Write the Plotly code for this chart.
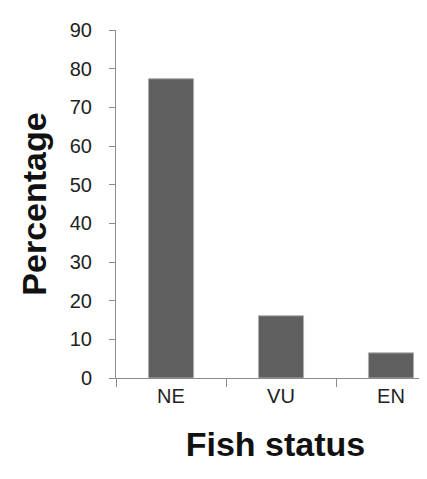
import plotly.graph_objects as go

categories = ["NE", "VU", "EN"]
percentages = [77.4, 16.1, 6.5]
y_ticks = [0, 10, 20, 30, 40, 50, 60, 70, 80, 90]

fig = go.Figure(
    go.Bar(
        x=categories,
        y=percentages,
        width=0.41,
        marker=dict(color="#5f5f5f", line=dict(color="#b0b0b0", width=1)),
    )
)

fig.update_layout(
    width=427,
    height=479,
    margin=dict(l=108, r=0, t=22, b=109),
    paper_bgcolor="white",
    plot_bgcolor="white",
    showlegend=False,
    font=dict(family="Liberation Sans, Arial, sans-serif", color="#222"),
)

fig.update_xaxes(
    range=[-0.5, 2.4],
    showline=True,
    linecolor="#8c8c8c",
    linewidth=1,
    ticks="outside",
    tickson="boundaries",
    ticklen=8,
    tickcolor="#8c8c8c",
    tickfont=dict(size=20, color="#222"),
    showgrid=False,
    zeroline=False,
    title=dict(text="<b>Fish status</b>", font=dict(size=34, color="#111"), standoff=26),
)

fig.update_yaxes(
    range=[0, 90],
    tickvals=y_ticks,
    showline=True,
    linecolor="#8c8c8c",
    linewidth=1,
    ticks="outside",
    ticklen=6,
    tickcolor="#8c8c8c",
    tickfont=dict(size=20, color="#222"),
    ticklabelstandoff=13,
    showgrid=False,
    zeroline=False,
    title=dict(text="<b>Percentage</b>", font=dict(size=34, color="#111"), standoff=12),
)

fig.write_html("out.html")
